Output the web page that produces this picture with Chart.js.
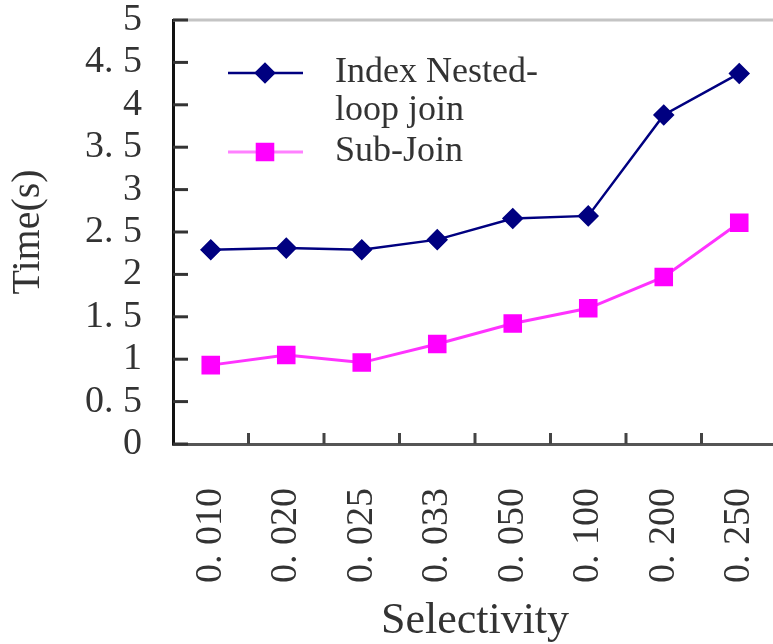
<!DOCTYPE html>
<html>
<head>
<meta charset="utf-8">
<script src="https://cdn.jsdelivr.net/npm/chart.js@4.4.0/dist/chart.umd.min.js"></script>
<style>
html, body { margin: 0; padding: 0; background: #fff; overflow: hidden; }
</style>
</head>
<body>
<canvas id="grafico" width="800" height="660"></canvas>
<script>
const selectividad = ['0.010', '0.020', '0.025', '0.033', '0.050', '0.100', '0.200', '0.250'];
const tiempoIndex = [2.29, 2.31, 2.29, 2.41, 2.66, 2.69, 3.88, 4.37];
const tiempoSubJoin = [0.93, 1.05, 0.96, 1.18, 1.42, 1.60, 1.97, 2.61];
const ticksY = [0, 0.5, 1, 1.5, 2, 2.5, 3, 3.5, 4, 4.5, 5];
const leyendaLineas = [['Index Nested-', 'loop join'], ['Sub-Join']];

const fuente = '"Liberation Serif", "DejaVu Serif", serif';
const conEspacio = v => String(v).replace('.', '. ');

// marcas hacia dentro y borde superior
const marcasInternas = {
    id: 'marcasInternas',
    beforeDatasetsDraw(chart) {
        const { ctx, chartArea, scales } = chart;
        ctx.save();
        ctx.lineWidth = 3;
        ctx.strokeStyle = '#c4c4c4';
        ctx.beginPath();
        ctx.moveTo(chartArea.left, chartArea.top);
        ctx.lineTo(chartArea.right, chartArea.top);
        ctx.stroke();

        ctx.strokeStyle = '#333';
        scales.y.ticks.forEach(t => {
            const y = scales.y.getPixelForValue(t.value);
            ctx.beginPath();
            ctx.moveTo(chartArea.left, y);
            ctx.lineTo(chartArea.left + 15, y);
            ctx.stroke();
        });

        ctx.strokeStyle = '#444';
        for (let i = 1; i < selectividad.length; i++) {
            const x = (scales.x.getPixelForValue(i - 1) + scales.x.getPixelForValue(i)) / 2;
            ctx.beginPath();
            ctx.moveTo(x, chartArea.bottom - 11);
            ctx.lineTo(x, chartArea.bottom);
            ctx.stroke();
        }
        ctx.restore();
    }
};

// leyenda dentro del area
const leyendaInterna = {
    id: 'leyendaInterna',
    afterDraw(chart) {
        const { ctx } = chart;
        const filas = [
            { y: 73, lineas: leyendaLineas[0] },
            { y: 152, lineas: leyendaLineas[1] }
        ];
        ctx.save();
        chart.data.datasets.forEach((ds, i) => {
            const f = filas[i];
            ctx.strokeStyle = ds.legendLine;
            ctx.lineWidth = ds.borderWidth;
            ctx.beginPath();
            ctx.moveTo(228, f.y);
            ctx.lineTo(303, f.y);
            ctx.stroke();
            ctx.fillStyle = ds.pointBackgroundColor;
            ctx.strokeStyle = ds.pointBackgroundColor;
            Chart.helpers.drawPoint(ctx, {
                pointStyle: ds.pointStyle, radius: ds.pointRadius, borderWidth: 1, rotation: 0
            }, 265, f.y);

            ctx.fillStyle = '#333';
            ctx.font = '36px ' + fuente;
            ctx.textBaseline = 'middle';
            ctx.textAlign = 'left';
            f.lineas.forEach((t, j) => ctx.fillText(t, 335, f.y + j * 38));
        });
        ctx.restore();
    }
};

new Chart(document.getElementById('grafico'), {
    type: 'line',
    data: {
        labels: selectividad,
        datasets: [
            {
                label: 'Index Nested-loop join',
                data: tiempoIndex,
                borderColor: '#000080',
                legendLine: '#000080',
                borderWidth: 2.5,
                pointStyle: 'rectRot',
                pointRadius: 9,
                pointBackgroundColor: '#000080',
                pointBorderColor: '#000080',
                tension: 0
            },
            {
                label: 'Sub-Join',
                data: tiempoSubJoin,
                borderColor: '#ff33ff',
                legendLine: '#ff80ff',
                borderWidth: 3,
                pointStyle: 'rect',
                pointRadius: 11,
                pointBackgroundColor: '#ff00ff',
                pointBorderColor: '#ff00ff',
                tension: 0
            }
        ]
    },
    options: {
        responsive: false,
        animation: false,
        devicePixelRatio: 1,
        layout: { padding: { top: 20, right: 23, left: 0, bottom: 0 } },
        plugins: { legend: { display: false }, tooltip: { enabled: false } },
        scales: {
            x: {
                offset: true,
                grid: { display: false },
                border: { display: true, color: '#555', width: 3 },
                ticks: {
                    minRotation: 90, maxRotation: 90, padding: 36,
                    autoSkip: false,
                    color: '#333',
                    font: { family: fuente, size: 38, lineHeight: 1 },
                    callback: function (v) { return conEspacio(this.getLabelForValue(v)); }
                },
                title: {
                    display: true, text: 'Selectivity', color: '#333',
                    font: { family: fuente, size: 44 },
                    padding: { top: 0, bottom: 12 }
                },
                afterFit: s => { s.height = 216; s.paddingLeft = 0; s.paddingRight = 0; }
            },
            y: {
                min: 0, max: 5,
                grid: { display: false },
                border: { display: true, color: '#111', width: 3 },
                afterBuildTicks: s => { s.ticks = ticksY.map(v => ({ value: v })); },
                ticks: {
                    padding: 23,
                    autoSkip: false,
                    color: '#333',
                    font: { family: fuente, size: 38, lineHeight: 1 },
                    callback: v => conEspacio(v)
                },
                title: {
                    display: true, text: 'Time(s)', color: '#333',
                    font: { family: fuente, size: 40 },
                    padding: { top: 4, bottom: 0 }
                },
                afterFit: s => { s.width = 173; s.paddingTop = 0; s.paddingBottom = 0; }
            }
        }
    },
    plugins: [marcasInternas, leyendaInterna]
});
</script>
</body>
</html>
